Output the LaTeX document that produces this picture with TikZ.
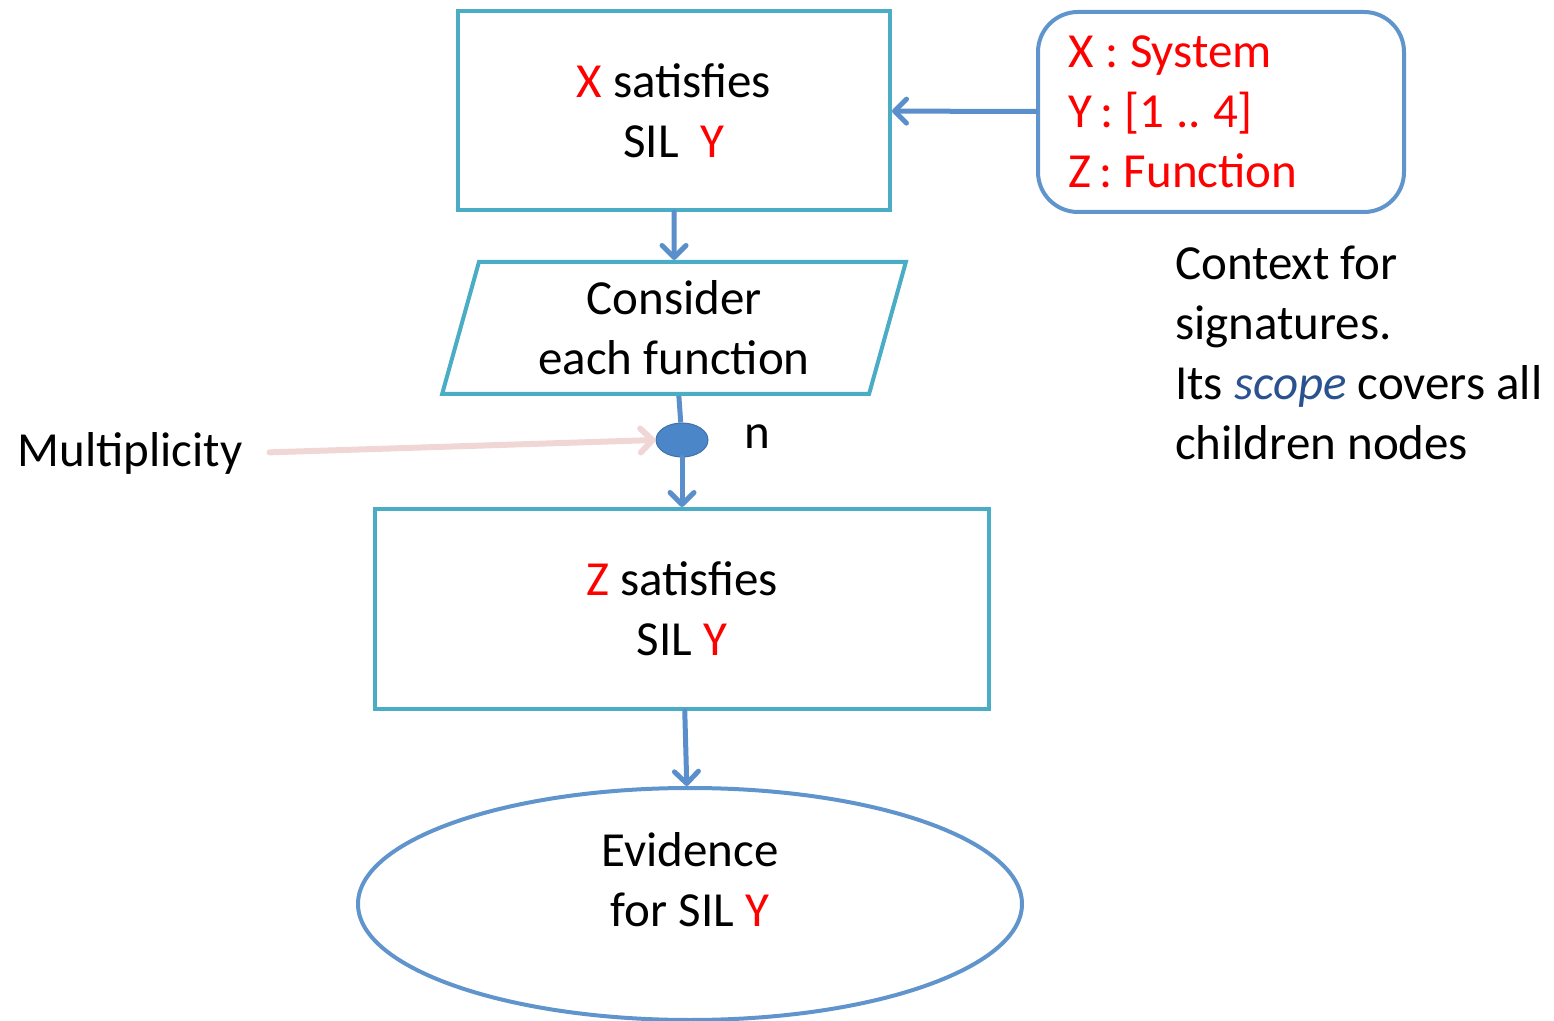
\documentclass[tikz,border=0pt]{standalone}
\usepackage{fontspec}
\setmainfont{Carlito}
\usetikzlibrary{arrows.meta,shapes.geometric}
\definecolor{boxcyan}{HTML}{4BACC6}
\definecolor{arrowblue}{HTML}{5A8FCB}
\definecolor{ctxblue}{HTML}{6094CC}
\definecolor{dotblue}{HTML}{4A86C8}
\definecolor{multpink}{HTML}{F0D6D5}
\definecolor{scopeblue}{HTML}{2B5290}
\frenchspacing
\begin{document}
\begin{tikzpicture}[x=0.5pt, y=-0.5pt,
    font=\fontsize{24.5pt}{30pt}\selectfont,
    goalbox/.style={draw=boxcyan, line width=2pt, rectangle, align=center},
    flow/.style={draw=arrowblue, line width=2.5pt, line cap=round,
        -{Straight Barb[round, length=6pt, width=12pt]}},
    ] 
    \useasboundingbox (0, 0) rectangle (1554, 1021);
    % top goal
    \node [goalbox, minimum width=216pt, minimum height=99.5pt] (xsat) at (674, 110.5)
        {{\color{red}X} satisfies\\SIL\ \ {\color{red}Y}};
    % context box
    \node [draw=ctxblue, line width=2pt, rounded corners=20pt, align=left,
        text width=153pt, inner xsep=15pt, inner ysep=6pt, minimum height=100pt,
        text=red] (ctx) at (1221, 112)
        {\spaceskip=0.24em\relax X : System\\Y\,: [1 .. 4]\\Z\,: Function};
    % strategy
    \node [draw=boxcyan, line width=2pt, trapezium, trapezium left angle=76,
        trapezium right angle=104, trapezium stretches=true,
        minimum width=232pt, minimum height=66pt, align=center] (cons) at (674, 328)
        {Consider\\each function};
    % multiplicity dot
    \node [ellipse, fill=dotblue, draw=dotblue!85!black, line width=0.5pt,
        minimum width=26pt, minimum height=17pt, inner sep=0] (dot) at (682, 440) {};
    % n label
    \node (n) at (757, 437) {n};
    % multiplicity label
    \node (mult) at (130, 453) {Multiplicity};
    % sub goal
    \node [goalbox, minimum width=307pt, minimum height=100pt] (zsat) at (682, 609)
        {{\color{red}Z} satisfies\\SIL {\color{red}Y}};
    % evidence
    \node [draw=ctxblue, line width=2pt, ellipse, minimum width=332pt,
        minimum height=116pt, inner sep=0,
        label={[align=center, yshift=12pt]center:Evidence\\for SIL {\color{red}Y}}]
        (evid) at (690, 904) {};
    % context note
    \node [anchor=west, align=left] (note) at (1168, 353)
        {Context for\\signatures.\\Its {\color{scopeblue}\itshape scope} covers all\\children nodes};
    % connectors
    \draw [flow] (ctx) -- (xsat);
    \draw [flow] (xsat) -- (cons);
    \draw [draw=arrowblue, line width=2.5pt] (cons) -- (dot);
    \draw [flow] (dot) -- (zsat);
    \draw [flow] (zsat) -- (evid);
    % multiplicity arrow
    \draw [draw=multpink, line width=3pt, line cap=round, shorten <=10pt,
        -{Straight Barb[round, length=6pt, width=12pt]}] (mult.east) -- (dot.west);
\end{tikzpicture}
\end{document}
